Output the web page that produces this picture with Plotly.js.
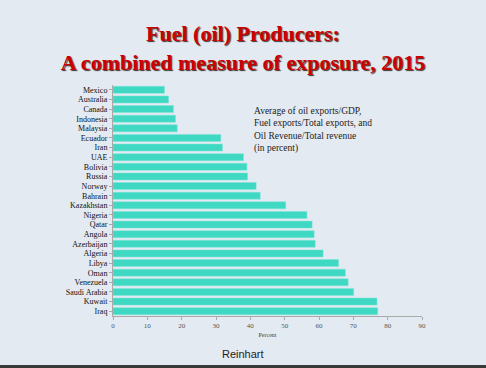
<!DOCTYPE html>
<html>
<head>
<meta charset="utf-8">
<script src="https://cdn.plot.ly/plotly-3.0.1.min.js"></script>
<style>
html,body{margin:0;padding:0;background:#e3eaf2;}
#chart{width:486px;height:368px;}
</style>
</head>
<body>
<div id="chart"></div>
<script>
const countries = ["Mexico","Australia","Canada","Indonesia","Malaysia","Ecuador","Iran","UAE","Bolivia","Russia","Norway","Bahrain","Kazakhstan","Nigeria","Qatar","Angola","Azerbaijan","Algeria","Libya","Oman","Venezuela","Saudi Arabia","Kuwait","Iraq"];
const exposure = [15.0,16.2,17.6,18.2,18.7,31.4,31.9,38.0,39.0,39.2,41.7,42.9,50.3,56.5,58.0,58.6,58.9,61.2,65.7,67.7,68.5,70.1,76.9,77.1];
const xTicks = [0,10,20,30,40,50,60,70,80,90];

const serif = "Liberation Serif, Times New Roman, serif";
const bg = "#e3eaf2";

const trace = {
  type: "bar",
  orientation: "h",
  y: countries,
  x: exposure,
  marker: {color: "#3ed8c3", line: {color: "#7ee6d8", width: 0.5}},
  hoverinfo: "x+y"
};

const layout = {
  width: 486, height: 368,
  paper_bgcolor: bg, plot_bgcolor: bg,
  margin: {l: 113, r: 64, t: 85, b: 52},
  showlegend: false,
  bargap: 0.27,
  title: {
    text: "Fuel (oil) Producers:<br>A combined measure of exposure, 2015",
    font: {family: serif, size: 22, color: "#cc0000", weight: "bold", shadow: "1px 1px 1px #333"},
    x: 0.5, xanchor: "center", xref: "container",
    y: 1, yref: "container", yanchor: "top", pad: {t: 41}
  },
  xaxis: {
    range: [0, 90],
    tickvals: xTicks,
    ticktext: xTicks.map(String),
    showgrid: false, zeroline: false,
    showline: true, linecolor: "#aaaaaa", linewidth: 1,
    ticks: "outside", ticklen: 3, tickcolor: "#aaaaaa",
    tickfont: {family: serif, size: 7, color: "#555555"},
    title: {text: "Percent", font: {family: serif, size: 6, color: "#444444"}, standoff: 3},
    fixedrange: true
  },
  yaxis: {
    type: "category",
    autorange: "reversed",
    tickmode: "array",
    tickvals: countries,
    ticktext: countries,
    showgrid: false, zeroline: false,
    showline: true, linecolor: "#aaaaaa", linewidth: 1,
    ticks: "outside", ticklen: 3, tickcolor: "#aaaaaa",
    tickfont: {family: serif, size: 8, color: "#111111"},
    fixedrange: true
  },
  annotations: [
    {
      text: "Average of oil exports/GDP,<br>Fuel exports/Total exports, and<br>Oil Revenue/Total revenue<br>(in percent)",
      xref: "paper", yref: "paper",
      x: (252 - 113) / 309, y: (316 - 104) / 231,
      xanchor: "left", yanchor: "top", align: "left",
      showarrow: false,
      font: {family: serif, size: 9.5, color: "#222222"}
    },
    {
      text: "Reinhart",
      xref: "paper", yref: "paper",
      x: (243 - 113) / 309, y: (316 - 354) / 231,
      xanchor: "center", yanchor: "middle",
      showarrow: false,
      font: {family: "Liberation Sans, Arial, sans-serif", size: 11, color: "#222222"}
    }
  ],
  shapes: [
    {
      type: "rect", xref: "paper", yref: "paper",
      x0: -113 / 309, x1: (486 - 113) / 309,
      y0: (316 - 365) / 231, y1: (316 - 369) / 231,
      fillcolor: "#3a3a3a", line: {width: 0}, layer: "above"
    }
  ]
};

Plotly.newPlot("chart", [trace], layout, {displayModeBar: false, staticPlot: true});
</script>
</body>
</html>
